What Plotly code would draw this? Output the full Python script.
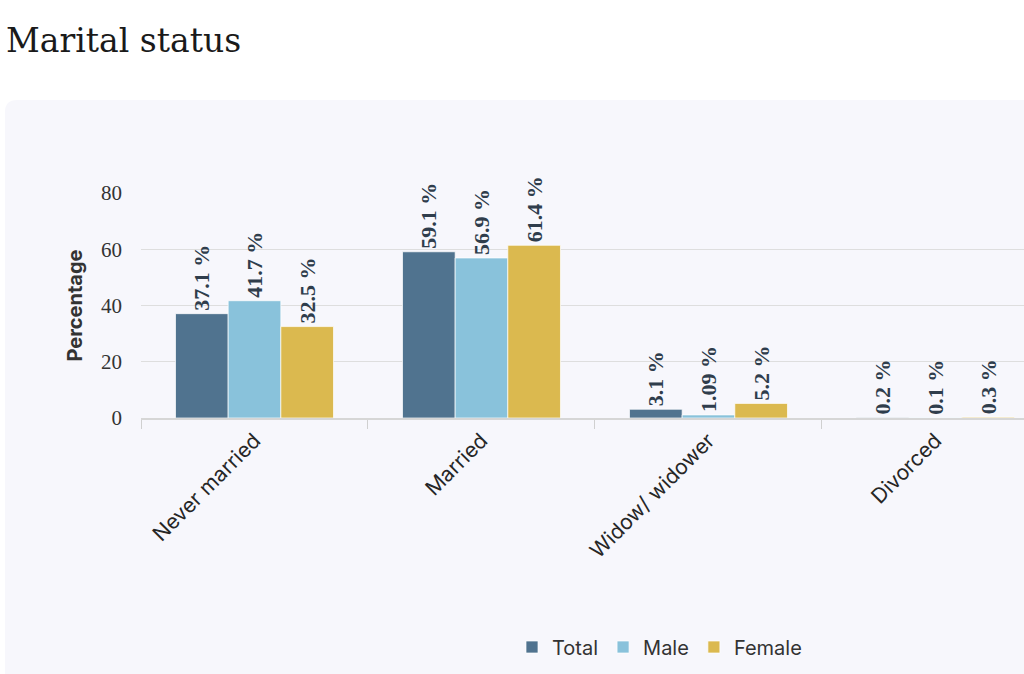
import plotly.graph_objects as go

categories = ["Never married", "Married", "Widow/ widower", "Divorced"]
total = [37.1, 59.1, 3.1, 0.2]
male = [41.7, 56.9, 1.09, 0.1]
female = [32.5, 61.4, 5.2, 0.3]
y_ticks = [0, 20, 40, 60, 80]

series = [("Total", total, "#50738f"), ("Male", male, "#89c2db"), ("Female", female, "#dbb94f")]

W, H = 1024, 674
L, R, T, B = 141, 0, 193, 256
pw, ph = W - L - R, H - T - B

def px(x):
    return (x - L) / pw

def py(y):
    return (H - B - y) / ph

fig = go.Figure()
for name, vals, col in series:
    fig.add_trace(go.Bar(
        x=categories, y=vals, name=name,
        marker=dict(color=col, line=dict(color="rgba(255,255,255,0.7)", width=1)),
        texttemplate="%{y} %", textposition="outside", textangle=-90,
        constraintext="none", cliponaxis=False,
        textfont=dict(family="Liberation Serif", size=22, color="#2f3d4c", weight="bold"),
    ))

# panel background with rounded corner
x0, y0, x1, y1 = px(5), py(100), px(W + 20), py(H + 20)
r = 12 / pw
rv = 12 / ph
path = (f"M {x0},{y1} L {x0},{y0 - rv} Q {x0},{y0} {x0 + r},{y0} "
        f"L {x1},{y0} L {x1},{y1} Z")
fig.add_shape(type="path", path=path, xref="paper", yref="paper",
              fillcolor="#f7f7fc", line=dict(width=0), layer="below")

fig.add_annotation(text="Marital status", xref="paper", yref="paper",
                   x=px(4), y=py(40), xanchor="left", yanchor="middle",
                   showarrow=False,
                   font=dict(family="DejaVu Serif", size=33, color="#1a1a1a"))

fig.update_layout(
    width=W, height=H,
    margin=dict(l=L, r=R, t=T, b=B, pad=0),
    paper_bgcolor="white", plot_bgcolor="rgba(0,0,0,0)",
    barmode="group", bargap=0.304, bargroupgap=0,
    showlegend=True,
    legend=dict(orientation="h", x=px(512), y=py(647), xanchor="left", yanchor="middle",
                font=dict(family="Inter", size=20, color="#333333"),
                bgcolor="rgba(0,0,0,0)"),
    xaxis=dict(range=[-0.5, 3.39], tickangle=-45, tickson="boundaries",
               ticks="outside", ticklen=9, tickcolor="#d0d0d0", tickwidth=1,
               showline=True, linecolor="#d6d6d6", linewidth=2,
               showgrid=False,
               tickfont=dict(family="Inter", size=21, color="#262626")),
    yaxis=dict(range=[0, 80], tickvals=y_ticks, showgrid=True, gridcolor="#dedede",
               gridwidth=1, zeroline=False, showline=False,
               ticks="", ticklabelstandoff=18,
               tickfont=dict(family="Liberation Serif", size=21, color="#333333"),
               title=dict(text="Percentage", standoff=13,
                          font=dict(family="Inter", size=20, color="#333333", weight="bold"))),
)

fig.write_html("out.html")
